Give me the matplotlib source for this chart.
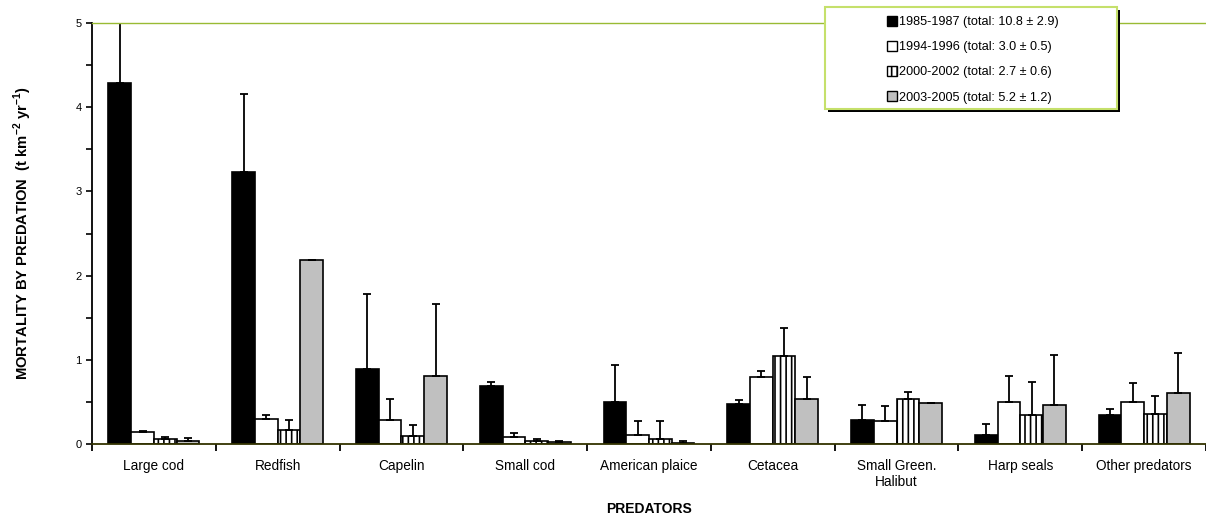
import numpy as np
import matplotlib.pyplot as plt
from matplotlib.ticker import MultipleLocator
from matplotlib.patches import Rectangle

plt.rcParams['font.family'] = ['Liberation Sans', 'DejaVu Sans']
plt.rcParams['hatch.linewidth'] = 1.2

predators = ['Large cod', 'Redfish', 'Capelin', 'Small cod', 'American plaice',
             'Cetacea', 'Small Green.\nHalibut', 'Harp seals', 'Other predators']

# mean values per period
v1985 = [4.29, 3.23, 0.89, 0.69, 0.50, 0.48, 0.28, 0.11, 0.34]
v1994 = [0.14, 0.30, 0.29, 0.08, 0.11, 0.79, 0.27, 0.50, 0.50]
v2000 = [0.06, 0.17, 0.10, 0.03, 0.06, 1.04, 0.53, 0.34, 0.36]
v2003 = [0.04, 2.18, 0.81, 0.02, 0.01, 0.54, 0.49, 0.46, 0.60]

# upper error (sd)
e1985 = [1.00, 0.93, 0.89, 0.05, 0.44, 0.04, 0.18, 0.13, 0.07]
e1994 = [0.02, 0.04, 0.25, 0.05, 0.16, 0.08, 0.18, 0.31, 0.23]
e2000 = [0.02, 0.11, 0.13, 0.03, 0.21, 0.34, 0.09, 0.40, 0.21]
e2003 = [0.03, 0.00, 0.85, 0.01, 0.03, 0.26, 0.00, 0.60, 0.48]

labels = ['1985-1987 (total: 10.8 ± 2.9)', '1994-1996 (total: 3.0 ± 0.5)',
          '2000-2002 (total: 2.7 ± 0.6)', '2003-2005 (total: 5.2 ± 1.2)']

W, H = 1206, 518
fig = plt.figure(figsize=(W / 100, H / 100), dpi=100)
ax = fig.add_axes([92 / W, 1 - 444 / H, 1 - 92 / W, 421 / H])

x = np.arange(len(predators))
w = 0.1835
series = [(v1985, e1985, 'black', None),
          (v1994, e1994, 'white', None),
          (v2000, e2000, 'white', '|||'),
          (v2003, e2003, '#c0c0c0', None)]
handles = []
for k, (v, e, c, h) in enumerate(series):
    b = ax.bar(x + (k - 1.5) * w, v, w, color=c, edgecolor='black', linewidth=1.2,
               hatch=h, yerr=[np.zeros(len(e)), e], capsize=3,
               error_kw=dict(elinewidth=1.3, capthick=1.3, ecolor='black'),
               label=labels[k], zorder=2)
    handles.append(b)

ax.set_xlim(-0.5, 8.5)
ax.set_ylim(0, 5)
ax.yaxis.set_major_locator(MultipleLocator(1))
ax.yaxis.set_minor_locator(MultipleLocator(0.5))
ax.set_xticks(np.arange(-0.5, 9, 1))
ax.set_xticklabels([])
ax.set_xticks(x, minor=True)
ax.set_xticklabels(predators, minor=True, fontsize=9.8)
ax.tick_params(axis='x', which='major', length=5, width=1.3, direction='out')
ax.tick_params(axis='x', which='minor', length=0, pad=11)
ax.tick_params(axis='y', which='both', length=4, width=1.2, labelsize=8)

ax.spines['right'].set_visible(False)
ax.spines['top'].set_color('#99bb33')
ax.spines['top'].set_linewidth(1)
ax.spines['left'].set_linewidth(1.3)
ax.spines['bottom'].set_color('#333300')
ax.spines['bottom'].set_linewidth(1.3)

ax.set_ylabel('MORTALITY BY PREDATION  (t km$^{\\mathregular{ -2}}$ yr$^{\\mathregular{ -1}}$)',
              fontsize=10.6, fontweight='bold', labelpad=30)
ax.set_xlabel('PREDATORS', fontsize=10, fontweight='bold')
ax.xaxis.set_label_coords(0.5, (444 - 502) / 421)

# legend frame with a black shadow
fig.add_artist(Rectangle((828 / W, 1 - 112 / H), 292 / W, 102 / H,
                         transform=fig.transFigure, facecolor='black',
                         edgecolor='none', zorder=4))
fig.add_artist(Rectangle((825 / W, 1 - 109 / H), 292 / W, 102 / H,
                         transform=fig.transFigure, facecolor='white',
                         edgecolor='#c5e06b', linewidth=1.5, zorder=5))

leg = fig.legend(handles=handles, loc='upper left',
                 bbox_to_anchor=(887 / W, 1 - 16 / H),
                 fontsize=9.1, frameon=False,
                 handlelength=0.8, handleheight=0.8, handletextpad=0.15,
                 borderpad=0, labelspacing=1.02, borderaxespad=0)
leg.set_zorder(6)
for hnd in leg.legend_handles:
    hnd.set_linewidth(1.0)

fig.savefig('out.png', dpi=100)
